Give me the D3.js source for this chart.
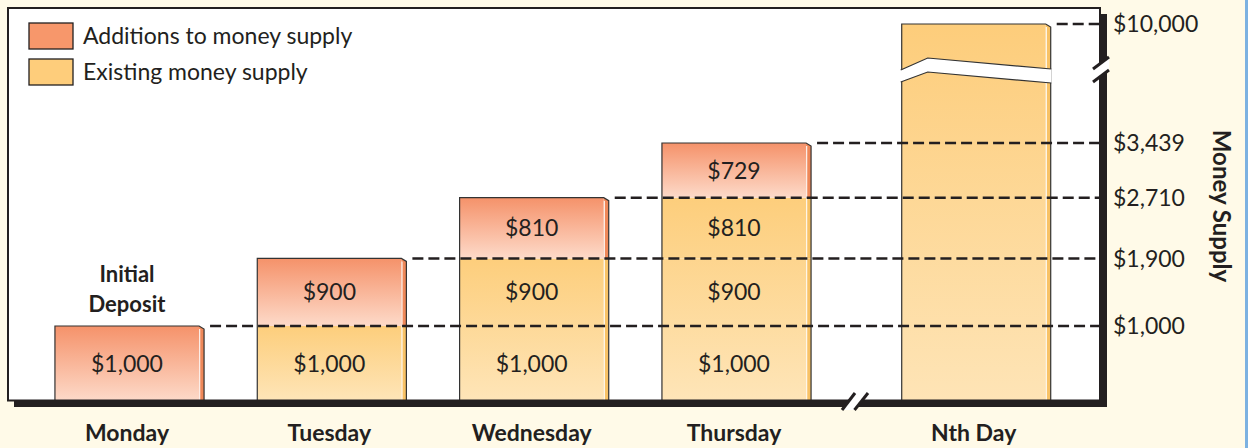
<!DOCTYPE html>
<html><head><meta charset="utf-8">
<script src="https://cdn.jsdelivr.net/npm/d3@7"></script>
<style>
html,body{margin:0;padding:0;background:#fffae8;}
svg{display:block;}
text{font-family:Lato,"Noto Sans",sans-serif;fill:#231f20;}
</style></head><body>
<svg id="chart" width="1248" height="448"></svg>
<script>
// ---- data ----
const days = ["Monday","Tuesday","Wednesday","Thursday"];
const lastDay = "Nth Day";
const additions = [1000, 900, 810, 729];          // new deposit created each day
const tickValues = [1000, 1900, 2710, 3439];
const tickLabels = ["$1,000","$1,900","$2,710","$3,439"];
const nthValue = 10000;
const nthLabel = "$10,000";
const legendLabels = ["Additions to money supply","Existing money supply"];
const initialLabel = ["Initial","Deposit"];
const yTitle = "Money Supply";

// ---- layout ----
const W = 1248, H = 448;
const plot = {l:8, t:8, r:1100, b:401};
const xBreak = 858, yBreak = 70;
const ink = "#231f20";
const fmt = v => "$" + d3.format(",")(v);

const svg = d3.select("#chart");
const defs = svg.append("defs");

function grad(id, c0, c1, units, y1, y2){
  const g = defs.append("linearGradient").attr("id", id);
  if (units) g.attr("gradientUnits","userSpaceOnUse").attr("x1",0).attr("x2",0).attr("y1",y1).attr("y2",y2);
  else g.attr("x1",0).attr("y1",0).attr("x2",0).attr("y2",1);
  g.append("stop").attr("offset",0).attr("stop-color",c0);
  g.append("stop").attr("offset",1).attr("stop-color",c1);
}
grad("gOrange", "#f5926a", "#fddac9");

// scales
const x1 = d3.scaleBand().domain(days).range([plot.l, xBreak]).paddingInner(0.263).paddingOuter(0.232);
const x2 = d3.scaleBand().domain([lastDay]).range([xBreak, plot.r]).paddingInner(0.263).paddingOuter(0.23).align(0.47);
const y = d3.scaleLinear().domain([0, 3439]).range([plot.b, 143]);
const yHigh = d3.scaleLinear().domain([9000, nthValue]).range([yBreak + 22, 24]);

// background blue strip
svg.append("rect").attr("x",1245).attr("y",0).attr("width",3).attr("height",H).attr("fill","#7cb1e1");
// plot white area
svg.append("rect").attr("x",plot.l).attr("y",plot.t).attr("width",plot.r-plot.l).attr("height",plot.b-plot.t).attr("fill","#fff");

const SIDE = 5;
const bars = svg.append("g");

function drawSegment(g, x0, bw, yt, yb, fill, sideFill, isTop){
  const wf = bw - SIDE;
  g.append("rect").attr("x",x0).attr("y",yt).attr("width",wf).attr("height",yb-yt).attr("fill",fill);
  const bev = isTop ? 3 : 0;
  g.append("path").attr("d",`M${x0+wf},${yt}L${x0+bw},${yt+bev}V${yb}H${x0+wf}Z`).attr("fill",sideFill);
  g.append("line").attr("x1",x0+wf+0.6).attr("x2",x0+wf+0.6).attr("y1",yt+bev).attr("y2",yb)
    .attr("stroke","#fff").attr("stroke-width",1.2).attr("opacity",0.9);
}
function outline(g, x0, bw, yt, yb){
  const wf = bw - SIDE;
  g.append("path").attr("d",`M${x0},${yb}V${yt}H${x0+wf}L${x0+bw},${yt+3}V${yb}`)
    .attr("fill","none").attr("stroke","#333").attr("stroke-width",1.2);
}

const totals = d3.cumsum(additions);
days.forEach((day, i) => {
  const x0 = x1(day), bw = x1.bandwidth();
  const g = bars.append("g");
  const existTop = i > 0 ? totals[i-1] : 0;
  if (i > 0) grad("gYel"+i, "#fdce7c", "#fee5b8", true, y(existTop), y(0));
  let base = 0;
  additions.slice(0, i+1).forEach((v, j) => {
    const isAdd = j === i;
    drawSegment(g, x0, bw, y(base+v), y(base), isAdd ? "url(#gOrange)" : `url(#gYel${i})`,
      isAdd ? "#ef8859" : "#f8c266", isAdd);
    base += v;
  });
  outline(g, x0, bw, y(totals[i]), y(0));
});

// Nth day bar with break
{
  const x0 = x2(lastDay), bw = x2.bandwidth();
  const g = bars.append("g");
  grad("gNth", "#fdcd7b", "#fee4b6", true, yHigh(nthValue), y(0));
  drawSegment(g, x0, bw, yHigh(nthValue), y(0), "url(#gNth)", "#f8c266", true);
  outline(g, x0, bw, yHigh(nthValue), y(0));
  const xr = x0 + bw + 0.6, xp = x0 + 26;
  const up = [[x0-1, yBreak], [xp, yBreak-12], [xr, yBreak-1]];
  const lo = [[x0-1, yBreak+12], [xp, yBreak+2], [xr, yBreak+13]];
  g.append("path").attr("d", "M" + up.concat(lo.slice().reverse()).join("L") + "Z").attr("fill","#fff");
  [up, lo].forEach(pts => g.append("path").attr("d","M"+pts.join("L")).attr("fill","none").attr("stroke","#333").attr("stroke-width",1.2));
}

// dashed guide lines
const guides = svg.append("g").attr("stroke",ink).attr("stroke-width",2.6).attr("stroke-dasharray","11,5");
tickValues.forEach((v, i) => {
  guides.append("line").attr("x1", x1(days[i]) + x1.bandwidth() + 6).attr("x2", plot.r)
    .attr("y1", y(v)).attr("y2", y(v));
});
guides.append("line").attr("x1", x2(lastDay) + x2.bandwidth() + 6).attr("x2", plot.r)
  .attr("y1", yHigh(nthValue)).attr("y2", yHigh(nthValue));

// frame
svg.append("rect").attr("x",plot.l).attr("y",plot.t).attr("width",plot.r-plot.l).attr("height",plot.b-plot.t-0.5)
  .attr("fill","none").attr("stroke",ink).attr("stroke-width",2);
svg.append("rect").attr("x",plot.l+6).attr("y",plot.b).attr("width",plot.r-plot.l+1).attr("height",6).attr("fill",ink);
svg.append("rect").attr("x",plot.r+1).attr("y",plot.t+6).attr("width",6).attr("height",plot.b-plot.t).attr("fill",ink);

// axis breaks
function brk(p1a, p1b, p2a, p2b){
  svg.append("path").attr("d",`M${p1a}L${p1b}L${p2b}L${p2a}Z`).attr("fill","#fff");
  [[p1a,p1b],[p2a,p2b]].forEach(([a,b]) => svg.append("line").attr("x1",a[0]).attr("y1",a[1]).attr("x2",b[0]).attr("y2",b[1])
    .attr("stroke",ink).attr("stroke-width",3));
}
brk([xBreak-16, plot.b+9], [xBreak-3, plot.b-8], [xBreak-3.5, plot.b+9], [xBreak+10, plot.b-8]);
brk([plot.r+9, yBreak-13], [plot.r-7, yBreak-1], [plot.r+9, yBreak], [plot.r-7, yBreak+12]);

// value labels inside bars
const labels = svg.append("g").attr("font-size",23).attr("text-anchor","middle");
days.forEach((day, i) => {
  const cx = x1(day) + (x1.bandwidth() - SIDE)/2;
  let base = 0;
  additions.slice(0, i+1).forEach(v => {
    labels.append("text").attr("x",cx).attr("y",(y(base)+y(base+v))/2).attr("dy","0.36em").text(fmt(v));
    base += v;
  });
});

// Initial deposit
const idg = svg.append("g").attr("font-size",22).attr("font-weight",700).attr("text-anchor","middle");
initialLabel.forEach((t, i) => idg.append("text")
  .attr("x", x1(days[0]) + (x1.bandwidth()-SIDE)/2).attr("y", y(additions[0]) - 44 + i*30).text(t));

// day labels
const dl = svg.append("g").attr("font-size",23).attr("font-weight",700).attr("text-anchor","middle");
days.forEach(d => dl.append("text").attr("x", x1(d) + (x1.bandwidth()-SIDE)/2).attr("y",441).text(d));
dl.append("text").attr("x", x2(lastDay) + (x2.bandwidth()-SIDE)/2).attr("y",441).text(lastDay);

// right axis tick labels
const tl = svg.append("g").attr("font-size",23);
tickValues.forEach((v, i) => tl.append("text").attr("x",plot.r+13).attr("y",y(v)).attr("dy","0.36em").text(tickLabels[i]));
tl.append("text").attr("x",plot.r+13).attr("y",yHigh(nthValue)).attr("dy","0.36em").text(nthLabel);

// axis title
svg.append("text").attr("transform",`translate(1222,${(143+401)/2 - 66}) rotate(90)`).attr("text-anchor","middle")
  .attr("dy","0.36em").attr("font-size",24).attr("font-weight",700).text(yTitle);

// legend
const lg = svg.append("g");
const legFills = ["#f7976b","#fecd7b"];
legendLabels.forEach((t, i) => {
  lg.append("rect").attr("x",29).attr("y",23 + i*36).attr("width",44).attr("height",26)
    .attr("fill",legFills[i]).attr("stroke",ink).attr("stroke-width",1.3);
  lg.append("text").attr("x",83).attr("y",36 + i*36).attr("dy","0.36em").attr("font-size",23).text(t);
});
</script>
</body></html>
